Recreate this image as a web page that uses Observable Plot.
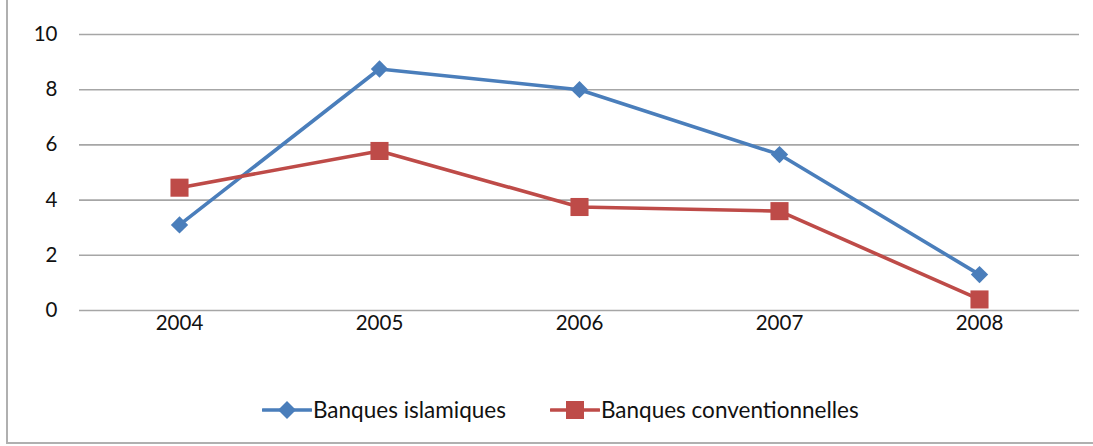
<!DOCTYPE html>
<html><head><meta charset="utf-8">
<script src="https://cdn.jsdelivr.net/npm/d3@7"></script>
<script src="https://cdn.jsdelivr.net/npm/@observablehq/plot@0.6"></script>
<style>
body{margin:0;background:#fff;font-family:Lato,"Open Sans",sans-serif;}
#wrap{position:absolute;left:6px;top:-2px;width:1100px;height:444px;border-left:2px solid #b0b0b0;border-bottom:2px solid #b0b0b0;}
#chart{position:absolute;left:-8px;top:2px;}
#legend{position:absolute;top:398px;left:254px;display:flex;align-items:center;font-size:22.5px;color:#111;}
.item{display:flex;align-items:center;margin-right:44px;}
.item svg{margin-right:1px;}
</style></head><body>
<div id="wrap"><div id="chart"></div>
<div id="legend"></div></div>
<script>
const years = ["2004","2005","2006","2007","2008"];
const islamiques = [3.1, 8.75, 8.0, 5.65, 1.3];
const conventionnelles = [4.45, 5.78, 3.75, 3.6, 0.4];
const yTicks = [0,2,4,6,8,10];
const series = [
  {name:"Banques islamiques", values: islamiques, color:"#4a7ebb", symbol:"diamond2", r:7.8},
  {name:"Banques conventionnelles", values: conventionnelles, color:"#be4b48", symbol:"square", r:10.2}
];
const data = series.flatMap(s => years.map((y,i)=>({year:y, value:s.values[i], name:s.name})));
const marks = [Plot.ruleY(yTicks, {stroke:"#a6a6a6", strokeWidth:1.6})];
for (const s of series) {
  const d = data.filter(r=>r.name===s.name);
  marks.push(Plot.line(d, {x:"year", y:"value", stroke:s.color, strokeWidth:3.6}));
  marks.push(Plot.dot(d, {x:"year", y:"value", fill:s.color, symbol:s.symbol, r:s.r}));
}
const chart = Plot.plot({
  width:1093, height:372,
  marginTop:34, marginBottom:62, marginLeft:79, marginRight:14,
  style:{fontFamily:"Lato, 'Open Sans', sans-serif", fontSize:"20.5px", color:"#111", background:"transparent"},
  x:{type:"point", domain:years, padding:0.5, label:null, tickSize:0, tickPadding:5},
  y:{domain:[0,10], ticks:yTicks, label:null, tickSize:0, tickPadding:22},
  marks
});
document.getElementById("chart").appendChild(chart);
const lg = document.getElementById("legend");
for (const s of series) {
  const it = document.createElement("div"); it.className="item";
  const shape = s.symbol==="square"
    ? `<rect x="16" y="2" width="18" height="18" fill="${s.color}"/>`
    : `<path d="M25 2 L34 11 L25 20 L16 11Z" fill="${s.color}"/>`;
  it.innerHTML = `<svg width="50" height="22"><line x1="1" x2="49" y1="11" y2="11" stroke="${s.color}" stroke-width="3.6" stroke-linecap="round"/>${shape}</svg><span>${s.name}</span>`;
  lg.appendChild(it);
}
</script>
</body></html>
